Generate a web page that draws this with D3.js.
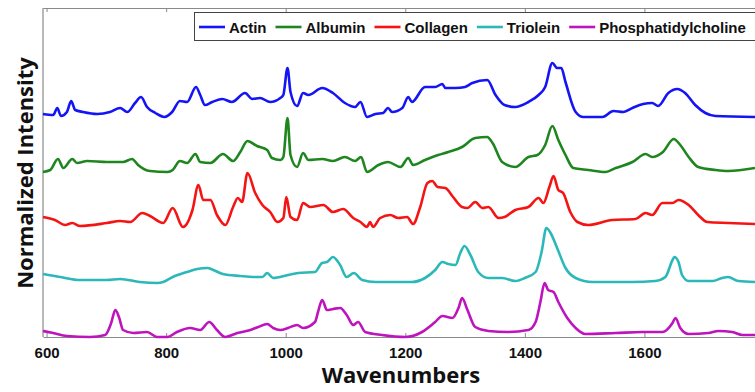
<!DOCTYPE html>
<html>
<head>
<meta charset="utf-8">
<script src="https://cdn.jsdelivr.net/npm/d3@7/dist/d3.min.js"></script>
<style>
    body { margin: 0; background: #fff; }
    svg { display: block; font-family: "Open Sans", "Liberation Sans", sans-serif; }
</style>
</head>
<body>
<div id="chart"></div>
<script>
"use strict"

// spectra: [wavenumber, normalized intensity (offset included)]
const seriesNames = ["Actin", "Albumin", "Collagen", "Triolein", "Phosphatidylcholine"];
const seriesColors = ["#1414f5", "#1f861f", "#f51414", "#2cb8b8", "#bd14bd"];

const actin = [
    [594,223],[611,222],[618,229],[624,221],[634,225],[641,236],[648,227],[661,225],[685,223],[706,225],
    [723,229],[735,225],[748,234],[758,240],[768,230],[782,224],[797,220],[810,225],[823,236],[835,235],
    [850,250],[857,242],[865,232],[877,235],[894,238],[910,235],[932,244],[944,238],[957,239],[974,235],
    [991,239],[996,242],[1003,269],[1008,245],[1019,231],[1029,244],[1038,242],[1061,249],[1079,244],[1099,234],
    [1116,230],[1125,235],[1136,220],[1150,223],[1163,224],[1171,229],[1178,225],[1195,229],[1205,240],[1211,235],
    [1233,250],[1250,250],[1262,253],[1267,249],[1284,249],[1300,250],[1312,254],[1337,257],[1351,242],[1366,232],
    [1384,230],[1406,235],[1423,242],[1434,250],[1446,274],[1454,269],[1461,269],[1468,255],[1485,225],[1498,220],
    [1530,220],[1548,226],[1565,225],[1580,229],[1598,233],[1613,234],[1623,231],[1640,244],[1655,248],[1668,244],
    [1685,232],[1702,224],[1719,221],[1785,220]
];

const albumin = [
    [594,165],[606,167],[619,178],[628,169],[643,178],[651,174],[668,176],[701,175],[728,175],[743,178],
    [753,172],[773,166],[802,165],[811,167],[823,176],[835,174],[849,183],[857,175],[874,174],[895,183],
    [912,176],[924,185],[936,196],[952,191],[969,187],[977,179],[991,177],[996,180],[1003,219],[1008,182],
    [1019,170],[1029,184],[1038,177],[1061,178],[1079,176],[1099,180],[1116,176],[1126,180],[1136,165],[1155,172],
    [1171,175],[1192,170],[1205,179],[1213,172],[1233,177],[1255,182],[1272,185],[1295,190],[1317,199],[1337,200],
    [1346,194],[1362,175],[1384,170],[1406,180],[1421,182],[1434,192],[1446,211],[1456,197],[1468,182],[1481,169],
    [1506,167],[1535,165],[1552,169],[1580,175],[1602,183],[1613,180],[1631,185],[1649,198],[1660,192],[1674,180],
    [1690,170],[1719,167],[1740,166],[1785,169]
];

const collagen = [
    [594,120],[614,117],[631,112],[643,114],[656,111],[701,114],[723,116],[740,115],[760,124],[773,121],
    [795,114],[811,129],[828,110],[844,127],[854,152],[862,137],[874,137],[885,122],[899,112],[912,130],
    [920,139],[927,135],[936,164],[949,144],[961,132],[974,125],[986,115],[996,119],[1001,140],[1008,120],
    [1019,117],[1029,134],[1041,130],[1063,132],[1079,125],[1096,128],[1113,119],[1125,115],[1136,110],[1141,115],
    [1146,110],[1158,119],[1175,122],[1188,119],[1203,120],[1213,113],[1225,130],[1237,154],[1245,156],[1254,150],
    [1267,149],[1280,140],[1295,130],[1304,129],[1317,135],[1329,129],[1339,130],[1356,119],[1366,120],[1384,127],
    [1406,130],[1423,139],[1431,134],[1441,150],[1448,161],[1456,147],[1464,144],[1476,125],[1488,115],[1506,112],
    [1546,117],[1585,118],[1602,124],[1613,122],[1630,134],[1647,134],[1657,137],[1674,132],[1690,122],[1705,115],
    [1740,114],[1785,113]
];

const triolein = [
    [594,63],[623,60],[656,57],[701,57],[723,58],[756,55],[785,54],[795,55],[811,60],[835,65],
    [852,68],[869,69],[879,67],[895,63],[924,61],[946,60],[961,60],[969,64],[979,59],[1004,62],
    [1021,64],[1049,65],[1061,74],[1069,75],[1079,80],[1091,72],[1102,60],[1114,64],[1128,57],[1150,55],
    [1178,55],[1211,55],[1233,59],[1250,67],[1262,75],[1272,73],[1284,72],[1292,84],[1299,91],[1309,82],
    [1322,65],[1339,59],[1362,59],[1384,56],[1400,59],[1418,65],[1428,85],[1436,109],[1443,104],[1454,89],
    [1468,69],[1485,59],[1513,55],[1580,55],[1618,56],[1635,60],[1647,77],[1650,80],[1657,75],[1663,62],
    [1674,56],[1714,56],[1730,59],[1740,60],[1757,56],[1785,55]
];

const phosphatidylcholine = [
    [594,6],[611,4],[634,1],[673,0],[698,2],[708,14],[715,27],[721,20],[728,7],[745,4],
    [768,5],[785,0],[802,0],[818,5],[840,9],[857,7],[872,15],[885,7],[899,0],[919,4],
    [941,7],[954,10],[969,13],[979,9],[991,7],[1004,9],[1019,12],[1029,9],[1049,15],[1054,25],
    [1061,37],[1069,27],[1079,28],[1091,29],[1102,22],[1113,12],[1121,15],[1133,5],[1161,2],[1200,0],
    [1228,5],[1250,15],[1262,21],[1279,19],[1289,29],[1295,39],[1304,27],[1317,10],[1339,6],[1372,5],
    [1406,7],[1418,15],[1426,35],[1433,54],[1439,47],[1448,45],[1456,35],[1471,19],[1485,9],[1501,3],
    [1552,4],[1597,5],[1630,5],[1647,14],[1652,19],[1660,9],[1674,3],[1707,4],[1724,6],[1747,5],
    [1764,2],[1785,2]
];

const xTicks = [600, 800, 1000, 1200, 1400, 1600];
const xDomain = [594, 1790];
const yDomain = [0, 329];

const allSeries = [actin, albumin, collagen, triolein, phosphatidylcholine];

const width = 755, height = 392;
const margin = { top: 8, right: -3, bottom: 55, left: 43 };

let svg = d3.select("#chart").append("svg")
    .attr("width", width)
    .attr("height", height);

let x = d3.scaleLinear()
    .domain(xDomain)
    .range([margin.left, width - margin.right]);

let y = d3.scaleLinear()
    .domain(yDomain)
    .range([height - margin.bottom, margin.top]);

// axes
let axisColor = "#8a8a8a";

let bottomAxis = svg.append("g")
    .attr("transform", "translate(0," + (height - margin.bottom) + ")")
    .call(d3.axisBottom(x).tickValues(xTicks).tickFormat(d3.format("d"))
        .tickSizeInner(-4).tickSizeOuter(0).tickPadding(10));

let topAxis = svg.append("g")
    .attr("transform", "translate(0," + margin.top + ")")
    .call(d3.axisTop(x).tickValues(xTicks).tickSizeInner(-4).tickSizeOuter(0).tickFormat(""));

svg.append("line")
    .attr("x1", margin.left)
    .attr("x2", margin.left)
    .attr("y1", margin.top)
    .attr("y2", height - margin.bottom)
    .style("stroke", axisColor)
    .style("stroke-width", "1.2px");

for (let g of [bottomAxis, topAxis]) {
    g.select(".domain").style("stroke", axisColor).style("stroke-width", "1.2px");
    g.selectAll(".tick line").style("stroke", axisColor);
}

bottomAxis.selectAll(".tick text")
    .style("font-size", "15px")
    .style("font-weight", "bold")
    .style("fill", "#111");

// spectra
let line = d3.line()
    .curve(d3.curveMonotoneX)
    .x(d => x(d[0]))
    .y(d => y(d[1]));

svg.append("g")
    .selectAll("path")
    .data(allSeries)
    .join("path")
    .attr("d", line)
    .style("fill", "none")
    .style("stroke", (d, i) => seriesColors[i])
    .style("stroke-width", "2.6px")
    .style("stroke-linejoin", "round");

// axis titles
svg.append("text")
    .attr("x", 401)
    .attr("y", 383)
    .style("text-anchor", "middle")
    .style("font-size", "22px")
    .style("font-weight", "bold")
    .style("fill", "#111")
    .text("Wavenumbers");

svg.append("text")
    .attr("transform", "translate(33,173) rotate(-90)")
    .style("text-anchor", "middle")
    .style("font-size", "22px")
    .style("font-weight", "bold")
    .style("fill", "#111")
    .text("Normalized Intensity");

// legend
let legend = svg.append("g");

legend.append("rect")
    .attr("x", 194.5)
    .attr("y", 12.5)
    .attr("width", 600)
    .attr("height", 28)
    .style("fill", "#fff")
    .style("stroke", "#444")
    .style("stroke-width", "1px");

let legendX = 199;
for (let i = 0; i < seriesNames.length; i++) {
    legend.append("line")
        .attr("x1", legendX)
        .attr("x2", legendX + 26)
        .attr("y1", 27)
        .attr("y2", 27)
        .style("stroke", seriesColors[i])
        .style("stroke-width", "2.6px");

    let label = legend.append("text")
        .attr("x", legendX + 30)
        .attr("y", 32.5)
        .style("font-family", "'Liberation Sans', Arial, sans-serif")
        .style("font-size", "15px")
        .style("font-weight", "bold")
        .style("fill", "#111")
        .text(seriesNames[i]);

    legendX += 30 + label.node().getComputedTextLength() + 9;
}
</script>
</body>
</html>
